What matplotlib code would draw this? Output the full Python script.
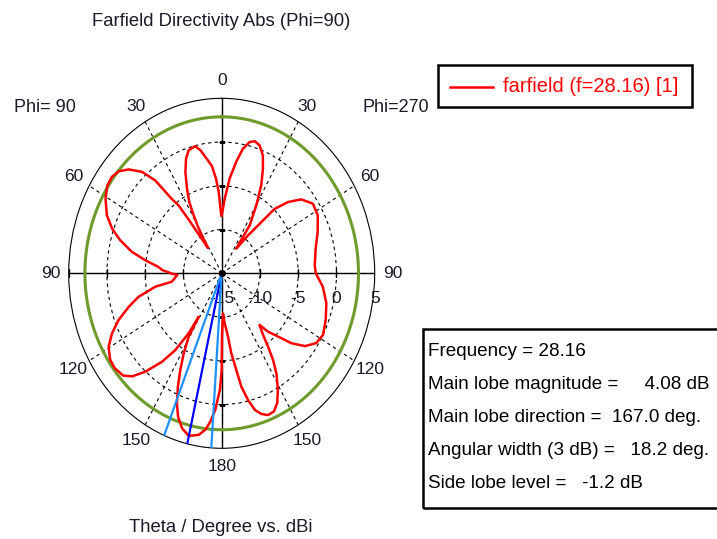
import numpy as np
import matplotlib
matplotlib.use('Agg')
import matplotlib.pyplot as plt
from matplotlib.patches import Rectangle
from matplotlib.lines import Line2D

plt.rcParams['font.family'] = ['Liberation Sans', 'DejaVu Sans']

# angle on the plot (deg, clockwise from top)
# 0..180 = Phi=270 half (theta = angle), 180..360 = Phi=90 half (theta = 360 - angle)
plot_angle = [0, 2.6, 5.5, 8.5, 11, 13.7, 16, 18.7, 21.8, 24.3, 27.2, 30.2, 33.7, 34.1,
              38.4, 41.5, 43.2, 46.8, 50.9, 56.3, 62.2, 69.4, 77.1, 85.7, 90, 96.6,
              104, 111.4, 118, 122.9, 127.4, 131.3, 134.5, 137.8, 140, 142.5, 144.1,
              145.9, 148, 151.1, 153.9, 156.6, 159.5, 162.1, 164.5, 166.6, 168.8,
              170.2, 172.2, 173.5, 176.1, 177.9, 179.7, 180, 181, 182.5, 183.1, 185,
              186.8, 189.2, 193, 196.3, 199.2, 201.5, 203.8, 206.1, 208.5, 210.8,
              211.2, 212.2, 214.7, 217.7, 221.6, 224.8, 227.8, 232.4, 236, 240.4,
              244.4, 248.4, 252.6, 256.1, 260, 261.6, 268.1, 269.6, 272.8, 275,
              278.5, 281.8, 285.9, 289.6, 293.8, 299.2, 303.8, 307.5, 310.9, 314.3,
              318.1, 320.7, 322.5, 324, 325, 326, 328.2, 329.5, 331.1, 332.5, 334.9,
              337.7, 340.4, 342.9, 346.6, 348.8, 351.6, 354.1, 356.1, 357.6, 359.5, 360]
directivity_db = [-8.4, -6.5, -4.1, -2.1, -0.5, 0.44, 0.7, 0.44, -0.5, -1.9, -3.7, -6.0, -8.4, -11.6,
                  -9.5, -7.2, -4.9, -3.1, -1.6, -0.66, -0.8, -1.6, -2.4, -2.8, -2.7, -1.7,
                  -0.9, -0.4, 0.0, -0.3, -1.3, -2.9, -4.7, -6.0, -7.3, -6.1, -4.7,
                  -3.0, -1.5, 0.2, 1.5, 2.2, 2.3, 1.9, 1.2, -0.1, -1.8,
                  -3.8, -5.8, -7.7, -9.3, -10.4, -7.8, -4.0, -1.7, -0.1, 0.64, 2.0,
                  3.0, 3.7, 4.08, 3.46, 2.35, 0.97, -0.8, -2.7, -4.6, -6.6,
                  -9.2, -6.9, -4.3, -2.2, 0.04, 1.6, 2.4, 2.7, 2.6, 2.0,
                  0.9, -0.5, -2.3, -3.8, -6.2, -8.4, -9.2, -8.5, -7.2, -6.7,
                  -4.9, -3.0, -1.2, 0.2, 1.4, 2.4, 3.0, 3.1, 2.8, 2.0,
                  0.57, -1.3, -4.3, -5.4, -7.7, -9.7, -11.6, -9.1, -7.4, -5.8, -4.3,
                  -2.5, -1.1, -0.3, -0.06, -0.66, -1.8, -2.7, -4.2, -5.7, -8.4, -8.4]

theta_tick_angles = [0, 30, 60, 90, 120, 150, 180, 210, 240, 270, 300, 330]
theta_tick_labels = ['0', '30', '60', '90', '120', '150', '180', '150', '120', '90', '60', '30']
r_ticks = [-15, -10, -5, 0, 5]
r_tick_labels = ['-15', '-10', '-5', '0', '5']

frequency = 28.16
main_lobe_mag = 4.08
main_lobe_dir = 167.0   # theta on the Phi=90 side
angular_width = 18.2
side_lobe_level = -1.2

info_lines = ['Frequency = 28.16',
              'Main lobe magnitude =     4.08 dB',
              'Main lobe direction =  167.0 deg.',
              'Angular width (3 dB) =   18.2 deg.',
              'Side lobe level =   -1.2 dB']

W, H = 717, 539
txt = '#1a1a2a'
fig = plt.figure(figsize=(W / 100, H / 100), dpi=100)
cx, cy, rx, ry = 221.7, 273.3, 153, 175
ax = fig.add_axes([(cx - rx) / W, (H - cy - ry) / H, 2 * rx / W, 2 * ry / H], projection='polar')
ax.set_theta_zero_location('N')
ax.set_theta_direction(-1)
ax.set_rlim(-15, 5)
ax.set_aspect('auto')   # the reference is stretched vertically

ax.set_xticks(np.deg2rad(theta_tick_angles), theta_tick_labels)
ax.set_yticks([-10, -5, 0], ['', '', ''])
ax.grid(True, color='black', linestyle=(0, (3, 3)), linewidth=0.8)
ax.tick_params(axis='x', pad=6, labelsize=12.5, colors=txt, direction='in')
ax.spines['polar'].set_linewidth(0.8)

# solid cross through the centre with ring ticks
for a in [0, 90, 180, 270]:
    ax.plot([np.deg2rad(a)] * 2, [-15, 5], color='black', lw=1.0, zorder=3)
for a in [90, 270]:
    ax.plot([np.deg2rad(a)] * 4, [-10, -5, 0, 5], ls='none', marker='|', ms=6, mew=1, color='black', zorder=3)
for a in [0, 180]:
    ax.plot([np.deg2rad(a)] * 3, [-10, -5, 0], ls='none', marker='_', ms=4, mew=0.8, color='black', zorder=3)

# side lobe level circle
circ = np.linspace(0, 2 * np.pi, 361)
ax.plot(circ, np.full_like(circ, main_lobe_mag + side_lobe_level), color='#6f9a2c', lw=2.2, zorder=4)

# pattern
ax.plot(np.deg2rad(plot_angle), directivity_db, color='#ff0000', lw=1.8, zorder=5,
        solid_joinstyle='round')

# main lobe direction and 3 dB width
main_a = 360 - main_lobe_dir
ax.plot([np.deg2rad(main_a)] * 2, [-15, 5], color='#0000ff', lw=1.6, zorder=6)
for a in [main_a - angular_width / 2, main_a + angular_width / 2]:
    ax.plot([np.deg2rad(a)] * 2, [-15, 5], color='#1e90ff', lw=1.6, zorder=6)
ax.plot([0], [-15], 'o', color='black', ms=4, zorder=7)

for r, lab in zip(r_ticks, r_tick_labels):
    ax.annotate(lab, xy=(np.pi / 2, r), xytext=(0, -18), textcoords='offset points',
                ha='center', va='center', fontsize=12.5, color=txt, zorder=2)

fig.text(221 / W, 1 - 21 / H, 'Farfield Directivity Abs (Phi=90)', ha='center', va='center', fontsize=13.3, color=txt)
fig.text(221 / W, 1 - 528 / H, 'Theta / Degree vs. dBi', ha='center', va='center', fontsize=13.3, color=txt)
fig.text(45 / W, 1 - 108 / H, 'Phi= 90', ha='center', va='center', fontsize=13, color=txt)
fig.text(396 / W, 1 - 108 / H, 'Phi=270', ha='center', va='center', fontsize=13, color=txt)

# legend box
fig.add_artist(Rectangle((438 / W, 1 - 107 / H), 254 / W, 42 / H, transform=fig.transFigure,
                         fill=False, edgecolor='black', lw=1.8))
fig.add_artist(Line2D([450 / W, 493 / W], [1 - 87 / H] * 2, transform=fig.transFigure, color='#ff0000', lw=1.8))
fig.text(503 / W, 1 - 87 / H, 'farfield (f=28.16) [1]', ha='left', va='center', fontsize=14.5, color='#ff0000')

# result box (runs off the right edge like the reference)
fig.add_artist(Rectangle((423 / W, 1 - 508 / H), 320 / W, 179 / H, transform=fig.transFigure,
                         fill=False, edgecolor='black', lw=1.8, clip_on=False))
for i, line in enumerate(info_lines):
    fig.text(428 / W, 1 - (352 + i * 32.8) / H, line, ha='left', va='center', fontsize=13.6, color='black')

fig.savefig('out.png', dpi=100)
